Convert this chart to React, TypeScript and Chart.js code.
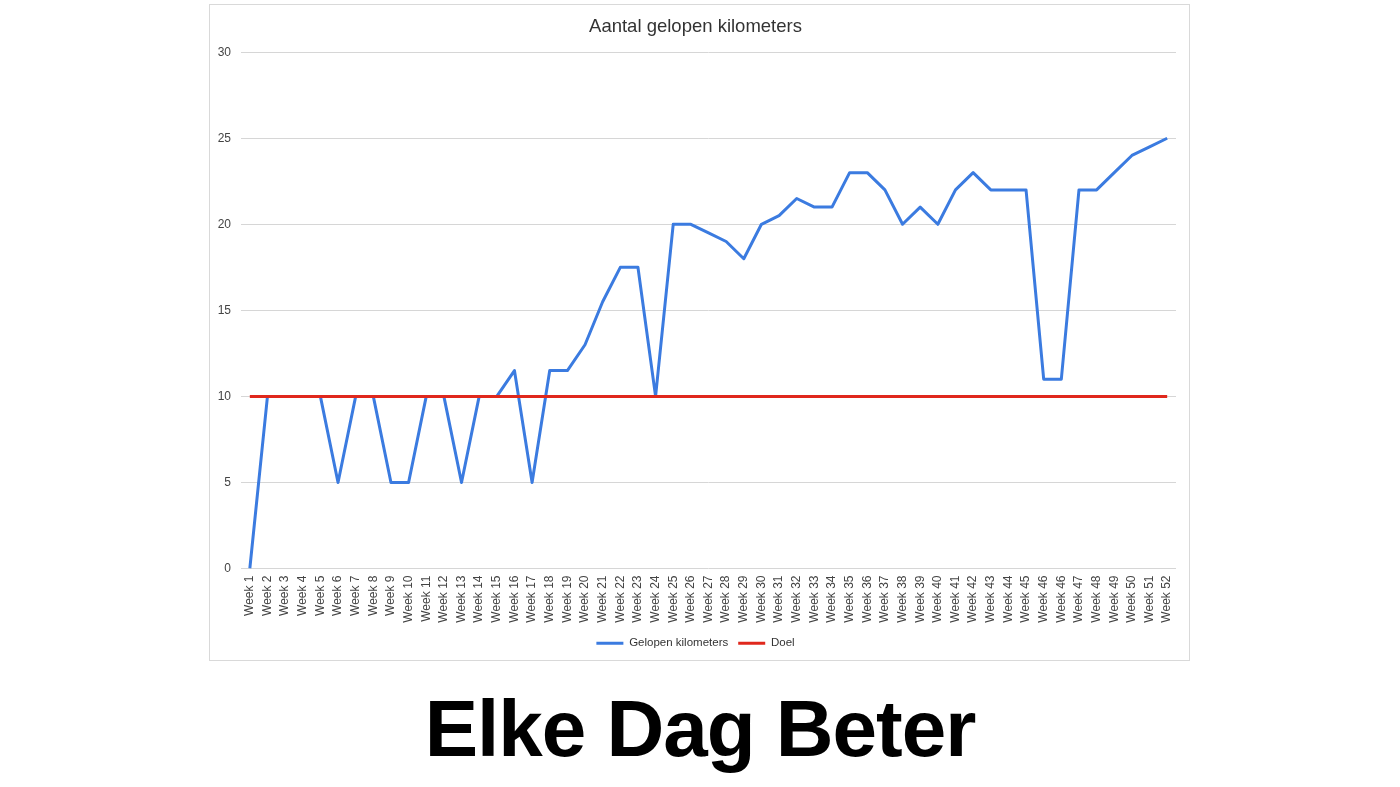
import React, { useEffect, useRef } from "react";
import { Chart, registerables } from "chart.js";

Chart.register(...registerables);

const labels: string[] = [
  "Week 1", "Week 2", "Week 3", "Week 4", "Week 5", "Week 6", "Week 7", "Week 8", "Week 9", "Week 10",
  "Week 11", "Week 12", "Week 13", "Week 14", "Week 15", "Week 16", "Week 17", "Week 18", "Week 19", "Week 20",
  "Week 21", "Week 22", "Week 23", "Week 24", "Week 25", "Week 26", "Week 27", "Week 28", "Week 29", "Week 30",
  "Week 31", "Week 32", "Week 33", "Week 34", "Week 35", "Week 36", "Week 37", "Week 38", "Week 39", "Week 40",
  "Week 41", "Week 42", "Week 43", "Week 44", "Week 45", "Week 46", "Week 46", "Week 47", "Week 48", "Week 49",
  "Week 50", "Week 51", "Week 52",
];

const gelopen: number[] = [
  0, 10, 10, 10, 10, 5, 10, 10, 5, 5,
  10, 10, 5, 10, 10, 11.5, 5, 11.5, 11.5, 13,
  15.5, 17.5, 17.5, 10, 20, 20, 19.5, 19, 18, 20,
  20.5, 21.5, 21, 21, 23, 23, 22, 20, 21, 20,
  22, 23, 22, 22, 22, 11, 11, 22, 22, 23,
  24, 24.5, 25,
];

const doel: number[] = labels.map(() => 10);

const yTicks: number[] = [0, 5, 10, 15, 20, 25, 30];

const FONT = "'Liberation Sans', Arial, sans-serif";

export default function App() {
  const ref = useRef<HTMLCanvasElement | null>(null);

  useEffect(() => {
    if (!ref.current) return;
    const chart = new Chart(ref.current, {
      type: "line",
      data: {
        labels,
        datasets: [
          {
            label: "Gelopen kilometers",
            data: gelopen,
            borderColor: "#3b7be0",
            backgroundColor: "#3b7be0",
            borderWidth: 3,
            borderJoinStyle: "round",
            pointRadius: 0,
            tension: 0,
            order: 2,
          },
          {
            label: "Doel",
            data: doel,
            borderColor: "#e0281c",
            backgroundColor: "#e0281c",
            borderWidth: 3,
            pointRadius: 0,
            tension: 0,
            order: 1,
          },
        ],
      },
      options: {
        animation: false,
        responsive: false,
        maintainAspectRatio: false,
        layout: { padding: { left: 5, right: 13, top: 0, bottom: 1 } },
        plugins: {
          title: {
            display: true,
            text: "Aantal gelopen kilometers",
            color: "#333333",
            font: { family: FONT, size: 18.5, weight: "normal" },
            padding: { top: 11, bottom: 14 },
          },
          legend: {
            position: "bottom",
            labels: {
              color: "#333333",
              font: { family: FONT, size: 11.5 },
              usePointStyle: true,
              pointStyle: "line",
              pointStyleWidth: 27,
              boxWidth: 27,
              boxHeight: 4,
              padding: 10,
              sort: (a: any, b: any) => a.datasetIndex - b.datasetIndex,
            },
          },
          tooltip: { enabled: false },
        },
        scales: {
          x: {
            offset: true,
            grid: { display: false, drawTicks: false },
            border: { display: false },
            ticks: {
              autoSkip: false,
              minRotation: 90,
              maxRotation: 90,
              padding: 7,
              color: "#444444",
              font: { family: FONT, size: 12 },
            },
            afterFit: (s: any) => {
              s.height = 59;
            },
          },
          y: {
            min: 0,
            max: 30,
            afterBuildTicks: (s: any) => {
              s.ticks = yTicks.map((v) => ({ value: v }));
            },
            grid: { color: "#d6d6d6", drawTicks: false, lineWidth: 1 },
            border: { display: false },
            ticks: {
              padding: 10,
              color: "#444444",
              font: { family: FONT, size: 12 },
            },
            afterFit: (s: any) => {
              s.width = 26;
            },
          },
        },
      },
    });
    return () => chart.destroy();
  }, []);

  return (
    <div
      style={{
        position: "absolute",
        left: 0,
        top: 0,
        width: 1400,
        height: 787,
        background: "#ffffff",
        overflow: "hidden",
      }}
    >
      <div
        style={{
          position: "absolute",
          left: 209,
          top: 4,
          width: 981,
          height: 657,
          boxSizing: "border-box",
          border: "1px solid #d9d9d9",
          background: "#ffffff",
        }}
      >
        <canvas ref={ref} width={979} height={655} style={{ display: "block", width: 979, height: 655 }} />
      </div>
      <div
        style={{
          position: "absolute",
          left: 0,
          top: 689,
          width: 1400,
          textAlign: "center",
          fontFamily: FONT,
          fontWeight: "bold",
          fontSize: 80,
          letterSpacing: -1,
          lineHeight: 1,
          color: "#000000",
        }}
      >
        Elke Dag Beter
      </div>
    </div>
  );
}
